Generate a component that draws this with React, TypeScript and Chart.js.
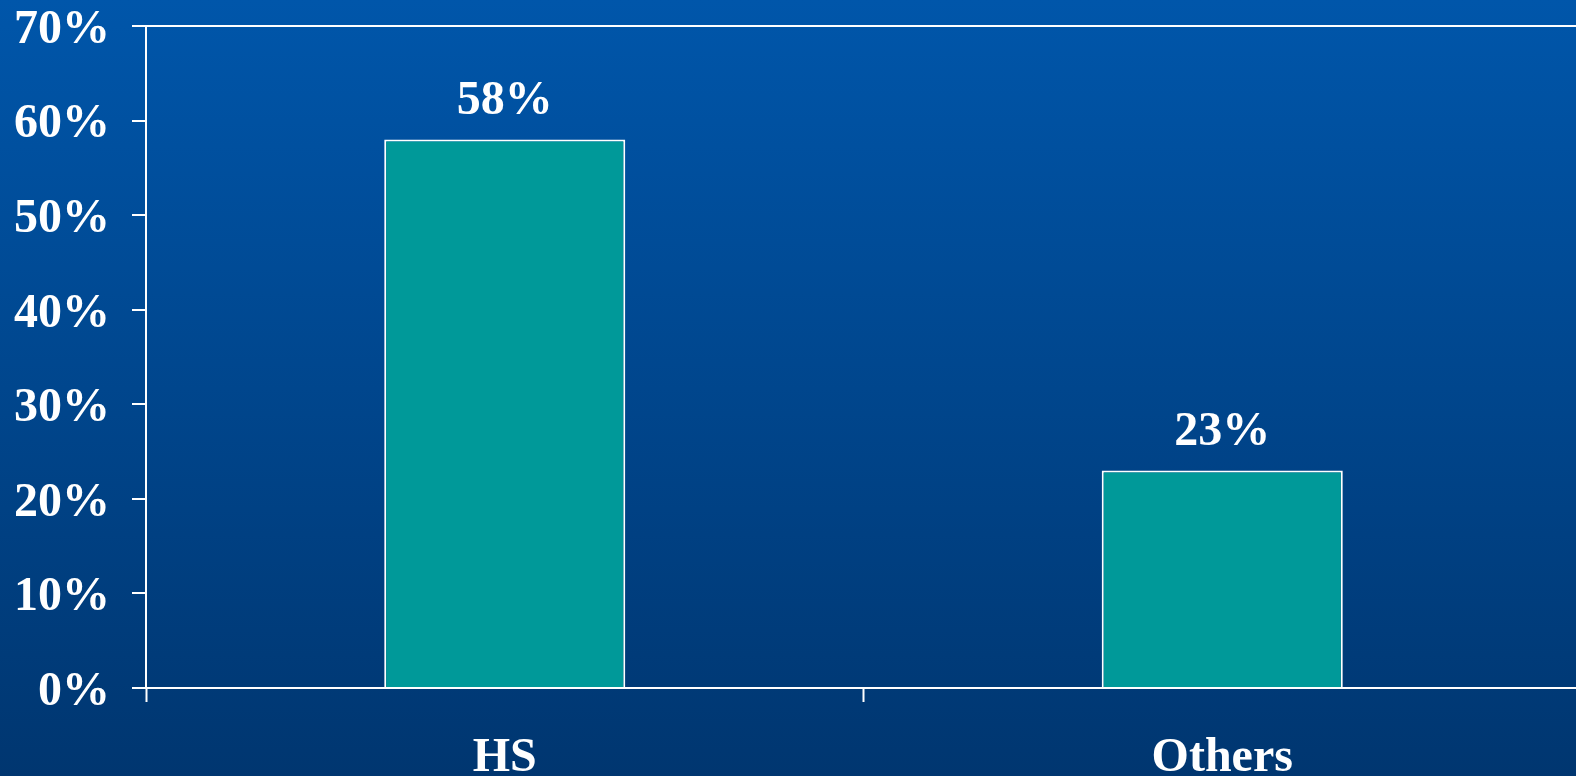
import React, { useEffect, useRef } from "react";
import { Chart, registerables } from "chart.js";

Chart.register(...registerables);

const categories = ["HS", "Others"];
const values = [58, 23];
const yTicks = [0, 10, 20, 30, 40, 50, 60, 70];

const FONT = "'Liberation Serif', 'Times New Roman', serif";
const FONT_SIZE = 48;

const valueLabels = {
  id: "valueLabels",
  afterDatasetsDraw(chart: any) {
    const ctx = chart.ctx;
    const meta = chart.getDatasetMeta(0);
    ctx.save();
    ctx.fillStyle = "#ffffff";
    ctx.font = `bold ${FONT_SIZE}px ${FONT}`;
    ctx.textAlign = "center";
    ctx.textBaseline = "alphabetic";
    meta.data.forEach((bar: any, i: number) => {
      ctx.fillText(values[i] + "%", bar.x, bar.y - 25);
    });
    ctx.restore();
  },
};

export default function App() {
  const ref = useRef<HTMLCanvasElement | null>(null);
  useEffect(() => {
    if (!ref.current) return;
    const chart = new Chart(ref.current, {
      type: "bar",
      data: {
        labels: categories,
        datasets: [
          {
            data: values,
            backgroundColor: "#009999",
            borderColor: "#ffffff",
            borderWidth: 2,
            categoryPercentage: 1,
            barPercentage: 0.336,
          },
        ],
      },
      options: {
        animation: false,
        responsive: false,
        maintainAspectRatio: false,
        layout: { padding: { top: 26, right: 19, left: 0, bottom: 0 } },
        plugins: { legend: { display: false }, tooltip: { enabled: false } },
        scales: {
          x: {
            offset: true,
            border: { display: true, color: "#ffffff", width: 2 },
            grid: {
              display: true,
              drawOnChartArea: false,
              drawTicks: true,
              tickLength: 14,
              tickColor: "#ffffff",
              tickWidth: 2,
              offset: true,
            },
            ticks: {
              color: "#ffffff",
              padding: 33,
              font: { family: FONT, size: FONT_SIZE, weight: "bold", lineHeight: 1 },
            },
            afterFit: (scale: any) => {
              scale.height = 88;
              scale.paddingLeft = 0;
              scale.paddingRight = 0;
            },
          },
          y: {
            min: 0,
            max: 70,
            afterBuildTicks: (scale: any) => {
              scale.ticks = yTicks.map((v) => ({ value: v }));
            },
            border: { display: true, color: "#ffffff", width: 2 },
            grid: {
              display: true,
              drawTicks: true,
              tickLength: 14,
              tickColor: "#ffffff",
              tickWidth: 2,
              lineWidth: 2,
              color: (ctx: any) => (ctx.tick && ctx.tick.value === 70 ? "#ffffff" : "rgba(0,0,0,0)"),
            },
            ticks: {
              color: "#ffffff",
              padding: 22,
              font: { family: FONT, size: FONT_SIZE, weight: "bold", lineHeight: "9px" },
              callback: (v: any) => ["", v + "%"],
            },
            afterFit: (scale: any) => {
              scale.width = 146;
              scale.paddingTop = 0;
              scale.paddingBottom = 0;
            },
          },
        },
      },
      plugins: [valueLabels],
    });
    return () => chart.destroy();
  }, []);

  return (
    <div
      style={{
        position: "fixed",
        left: 0,
        top: 0,
        width: "1576px",
        height: "776px",
        overflow: "hidden",
        background: "linear-gradient(to bottom, #0056aa 0%, #003670 100%)",
      }}
    >
      <canvas
        ref={ref}
        width={1600}
        height={776}
        style={{ display: "block", width: "1600px", height: "776px" }}
      />
    </div>
  );
}
